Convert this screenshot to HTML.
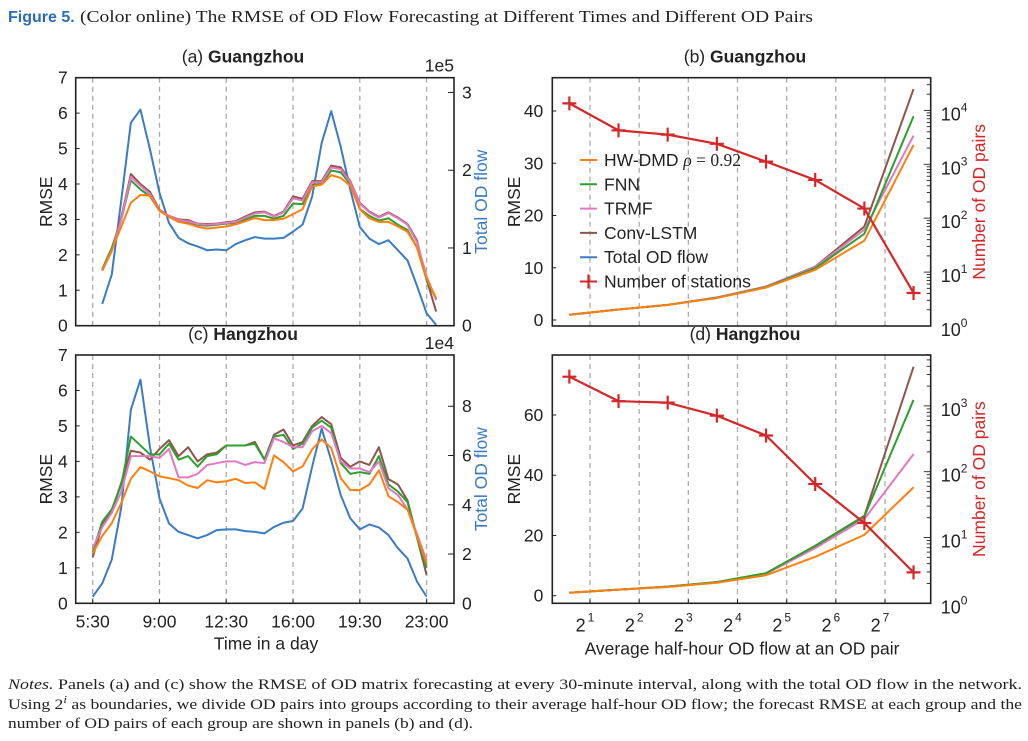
<!DOCTYPE html>
<html><head><meta charset="utf-8"><style>
body{margin:0;background:#fff;}
svg{font-family:"Liberation Sans",sans-serif;}
</style></head><body>
<svg id="fig" width="1028" height="736" viewBox="0 0 1028 736" xmlns="http://www.w3.org/2000/svg">
<text x="8" y="22" font-size="16" fill="#2a6db5" font-weight="bold">Figure 5.</text>
<text x="80" y="22" font-size="17" fill="#222" style="font-family:'Liberation Serif',serif" textLength="733" lengthAdjust="spacingAndGlyphs">(Color online) The RMSE of OD Flow Forecasting at Different Times and Different OD Pairs</text>
<g id="plots"></g>
<g style="font-family:'Liberation Serif',serif" font-size="15" fill="#222">
<text x="8" y="689" textLength="1014" lengthAdjust="spacingAndGlyphs"><tspan font-style="italic">Notes.</tspan> Panels (a) and (c) show the RMSE of OD matrix forecasting at every 30-minute interval, along with the total OD flow in the network.</text>
<text x="8" y="709" textLength="1014" lengthAdjust="spacingAndGlyphs">Using 2<tspan font-style="italic" font-size="11" dy="-6">i</tspan><tspan dy="6"> as boundaries, we divide OD pairs into groups according to their average half-hour OD flow; the forecast RMSE at each group and the</tspan></text>
<text x="8" y="728" textLength="465" lengthAdjust="spacingAndGlyphs">number of OD pairs of each group are shown in panels (b) and (d).</text>
</g>
</svg>
<script>
// ---- Panel (a) Guangzhou, slots 1..36 (6:00..23:30)
const aSlots = [1,2,3,4,5,6,7,8,9,10,11,12,13,14,15,16,17,18,19,20,21,22,23,24,25,26,27,28,29,30,31,32,33,34,35,36];
const aHW = [1.57,2.13,2.8,3.47,3.69,3.67,3.24,3.07,2.93,2.88,2.79,2.74,2.77,2.8,2.86,2.95,3.04,2.98,2.98,3.02,3.15,3.29,3.93,3.98,4.25,4.17,3.95,3.29,3.03,2.93,2.93,2.8,2.65,2.2,1.34,0.78];
const aFNN = [1.6,2.2,3.0,4.1,3.85,3.65,3.25,3.08,2.97,2.93,2.85,2.82,2.85,2.88,2.9,3.0,3.1,3.1,3.02,3.1,3.45,3.43,3.98,4.0,4.38,4.33,4.0,3.3,3.1,2.97,3.03,2.85,2.7,2.2,1.3,0.75];
const aTRMF = [1.55,2.1,3.0,4.2,3.95,3.72,3.25,3.1,2.98,2.95,2.87,2.85,2.87,2.9,2.93,3.05,3.17,3.2,3.08,3.2,3.6,3.53,4.05,4.05,4.47,4.42,4.05,3.45,3.2,3.05,3.18,3.03,2.85,2.35,1.4,0.72];
const aLSTM = [1.55,2.15,3.05,4.28,4.0,3.78,3.27,3.1,3.0,2.98,2.88,2.87,2.88,2.92,2.95,3.08,3.2,3.22,3.1,3.22,3.65,3.58,4.08,4.08,4.52,4.47,4.08,3.47,3.22,3.07,3.2,3.05,2.87,2.4,1.3,0.4];
const aFlow = [0.28,0.66,1.62,2.61,2.78,2.27,1.71,1.32,1.13,1.06,1.02,0.97,0.98,0.97,1.05,1.10,1.14,1.12,1.12,1.13,1.21,1.30,1.66,2.35,2.76,2.30,1.75,1.27,1.12,1.05,1.10,0.97,0.84,0.51,0.16,0.01];
// ---- Panel (c) Hangzhou, slots 0..35 (5:30..23:00)
const cSlots = [0,1,2,3,4,5,6,7,8,9,10,11,12,13,14,15,16,17,18,19,20,21,22,23,24,25,26,27,28,29,30,31,32,33,34,35];
const cHW = [1.41,1.9,2.26,2.83,3.51,3.84,3.72,3.58,3.53,3.47,3.32,3.25,3.47,3.41,3.44,3.51,3.39,3.41,3.22,4.17,3.98,3.72,3.86,4.34,4.62,4.38,3.53,3.19,3.19,3.35,3.75,3.02,2.85,2.64,1.89,1.13];
const cFNN = [1.45,2.3,2.65,3.35,4.7,4.45,4.2,4.2,4.5,4.05,4.15,3.85,4.15,4.2,4.45,4.45,4.45,4.5,4.05,4.7,4.75,4.35,4.5,4.95,5.15,4.95,3.95,3.65,3.7,3.65,4.15,3.35,3.15,2.85,1.85,1.0];
const cTRMF = [1.55,2.15,2.55,3.15,4.15,4.15,4.15,4.1,4.35,3.55,3.55,3.65,3.9,3.95,4.0,4.0,3.9,3.98,3.95,4.65,4.55,4.4,4.4,4.85,5.0,4.8,4.0,3.8,3.8,3.7,4.0,3.25,3.05,2.65,1.95,1.2];
const cLSTM = [1.3,2.2,2.6,3.4,4.3,4.25,4.05,4.35,4.6,4.15,4.4,4.0,4.2,4.25,4.45,4.45,4.45,4.55,4.05,4.75,4.9,4.45,4.55,5.0,5.25,5.05,4.1,3.85,4.0,3.9,4.4,3.5,3.35,2.9,1.85,0.8];
const cFlow = [0.27,0.81,1.78,3.9,7.86,9.08,6.35,4.26,3.24,2.9,2.77,2.64,2.77,2.97,3.0,3.0,2.93,2.9,2.84,3.1,3.27,3.34,3.85,5.54,7.09,5.81,4.39,3.45,3.0,3.2,3.08,2.77,2.23,1.82,0.88,0.27];
const timeTicks = ["5:30","9:00","12:30","16:00","19:30","23:00"];
// ---- Panels (b),(d): log2 of average flow per group
const grpX = [0.58,1.58,2.58,3.58,4.58,5.58,6.58,7.58];
const bHW = [1.0,2.0,2.9,4.2,6.2,9.6,15.2,33.5];
const bFNN = [1.0,2.0,2.9,4.25,6.3,9.9,16.5,39];
const bTRMF = [1.0,2.0,2.9,4.3,6.4,10.1,17.3,35.3];
const bLSTM = [1.0,2.0,2.9,4.3,6.4,10.2,17.9,44.2];
const bPairs = [13500,4260,3550,2400,1120,513,151,4.1];
const dHW = [1.0,2.0,2.9,4.3,6.8,12.9,20.2,36];
const dFNN = [1.0,2.0,3.0,4.5,7.5,16.5,26.3,65];
const dTRMF = [1.0,2.0,3.0,4.5,7.3,15.8,25.5,47];
const dLSTM = [1.0,2.0,3.0,4.5,7.4,16.6,26.5,76];
const dPairs = [2780,1180,1120,710,355,65,16.6,2.95];
const powTicks = [1,2,3,4,5,6,7];

const FS = 17.5;
const C = {hw:"#ff7f0e",fnn:"#2ca02c",trmf:"#e377c2",lstm:"#8c564b",flow:"#3a7cc4",red:"#d62728"};
const NS="http://www.w3.org/2000/svg";
const root=document.getElementById('plots');
function mk(tag,attrs,parent){const e=document.createElementNS(NS,tag);for(const k in attrs)e.setAttribute(k,attrs[k]);(parent||root).appendChild(e);return e;}
function txt(s,attrs,parent){const e=mk('text',attrs,parent);e.textContent=s;return e;}
function lin(d0,d1,r0,r1){return v=>r0+(v-d0)/(d1-d0)*(r1-r0);}
function poly(xs,ys,fx,fy,color,g,w){const p=xs.map((x,i)=>fx(x).toFixed(2)+','+fy(ys[i]).toFixed(2)).join(' ');return mk('polyline',{points:p,fill:'none',stroke:color,'stroke-width':w||2,'stroke-linejoin':'round'},g);}

function timePanel(id,top,bot,slots,series,flow,flowMax,flowTicks,expo,title,showX){
  const L=75.7,R=454;
  const g=mk('g',{});
  
  
  const fx=lin(0,1,92.7,92.7+9.54);
  const fy=lin(0,7,bot,top);
  const fr=lin(0,flowMax,bot,top);
  for(let i=0;i<6;i++){const x=fx(i*7);const l=mk('line',{x1:x,x2:x,y1:top,y2:bot,stroke:'#aaa','stroke-width':1.3,'stroke-dasharray':'5,4'},g);}
  for(let v=0;v<=7;v++){const y=fy(v);mk('line',{x1:L,x2:L+4,y1:y,y2:y,stroke:'#222'},g);const t=txt(String(v),{x:L-8,y:y+6,'font-size':FS,'text-anchor':'end',fill:'#222'},g);}
  flowTicks.forEach(v=>{const y=fr(v);mk('line',{x1:R-6,x2:R,y1:y,y2:y,stroke:'#222'},g);const t=txt(String(v),{x:R+8,y:y+6,'font-size':FS,fill:'#222'},g);});
  const e=txt(expo,{x:R,y:top-6,'font-size':FS,'text-anchor':'end',fill:'#222'},g);
  const yl=txt('RMSE',{transform:`translate(52,${(top+bot)/2}) rotate(-90)`,'font-size':FS,'text-anchor':'middle',fill:'#222'},g);
  const rl=txt('Total OD flow',{transform:`translate(487,${(top+bot)/2}) rotate(-90)`,'font-size':FS,'text-anchor':'middle',fill:C.flow},g);
  const tt=mk('text',{x:243,y:top-15,'font-size':FS,'text-anchor':'middle',fill:'#222'},g);tt.innerHTML=title;
  if(showX){timeTicks.forEach((s,i)=>{const x=fx(i*7);mk('line',{x1:x,x2:x,y1:bot,y2:bot-4,stroke:'#222'},g);const t=txt(s,{x:x,y:bot+24,'font-size':FS,'text-anchor':'middle',fill:'#222'},g);});
    const xt=txt('Time in a day',{x:266,y:bot+46,'font-size':FS,'text-anchor':'middle',fill:'#222'},g);}
  const lf=poly(slots,flow,fx,fr,C.flow,g);
  const names=['hw-dmd-line','fnn-line','trmf-line','conv-lstm-line'];const cols=[C.hw,C.fnn,C.trmf,C.lstm];
  [3,1,2,0].forEach(k=>{const p=poly(slots,series[k],fx,fy,cols[k],g);});
  mk('rect',{x:L,y:top,width:R-L,height:bot-top,fill:'none',stroke:'#222','stroke-width':1.6},g);
}
timePanel('a',77.7,325.7,aSlots,[aHW,aFNN,aTRMF,aLSTM],aFlow,3.19,[0,1,2,3],'1e5','(a) <tspan font-weight="bold">Guangzhou</tspan>',false);
timePanel('c',355,603.3,cSlots,[cHW,cFNN,cTRMF,cLSTM],cFlow,10.08,[0,2,4,6,8],'1e4','(c) <tspan font-weight="bold">Hangzhou</tspan>',true);

function groupPanel(id,top,bot,zeroY,refV,refY,rmseTicks,series,pairs,decPx,decTicks,title,legend,showX){
  const L=552.3,R=930.7;
  const g=mk('g',{});
  
  
  const fx=lin(1,2,590,639.17);
  const fy=lin(0,refV,zeroY,refY);
  const fr=v=>bot-Math.log10(v)*decPx;
  for(let k=1;k<=7;k++){const x=fx(k);const l=mk('line',{x1:x,x2:x,y1:top,y2:bot,stroke:'#aaa','stroke-width':1.3,'stroke-dasharray':'5,4'},g);}
  rmseTicks.forEach(v=>{const y=fy(v);mk('line',{x1:L,x2:L+4,y1:y,y2:y,stroke:'#222'},g);const t=txt(String(v),{x:L-9,y:y+6,'font-size':FS,'text-anchor':'end',fill:'#222'},g);});
  const maxDec=(bot-top)/decPx;
  for(let d=0;d<=Math.ceil(maxDec);d++){for(let m=1;m<10;m++){const v=m*Math.pow(10,d);const y=fr(v);if(y<top-0.5)continue;mk('line',{x1:R-(m==1?7:4),x2:R,y1:y,y2:y,stroke:'#222','stroke-width':0.9},g);}}
  decTicks.forEach(d=>{const y=fr(Math.pow(10,d));const t=mk('text',{x:R+10,y:y+10,'font-size':18,fill:'#222'},g);t.innerHTML='10<tspan font-size="12" dy="-9">'+d+'</tspan>';});
  const yl=txt('RMSE',{transform:`translate(520,${(top+bot)/2}) rotate(-90)`,'font-size':FS,'text-anchor':'middle',fill:'#222'},g);
  const rl=txt('Number of OD pairs',{transform:`translate(985,${(top+bot)/2}) rotate(-90)`,'font-size':FS,'text-anchor':'middle',fill:C.red},g);
  const tt=mk('text',{x:745,y:top-15,'font-size':FS,'text-anchor':'middle',fill:'#222'},g);tt.innerHTML=title;
  if(showX){powTicks.forEach(k=>{const x=fx(k);mk('line',{x1:x,x2:x,y1:bot,y2:bot-4,stroke:'#222'},g);const t=mk('text',{x:x-5,y:bot+28,'font-size':18,'text-anchor':'middle',fill:'#222'},g);t.innerHTML='2<tspan font-size="12" dy="-10" dx="2">'+k+'</tspan>';});
    const xt=txt('Average half-hour OD flow at an OD pair',{x:742,y:bot+51,'font-size':FS,'text-anchor':'middle',fill:'#222'},g);}
  const names=['hw-dmd-line','fnn-line','trmf-line','conv-lstm-line'];const cols=[C.hw,C.fnn,C.trmf,C.lstm];
  [3,2,1,0].forEach(k=>{const p=poly(grpX,series[k],fx,fy,cols[k],g);});
  const rp=poly(grpX,pairs,fx,fr,C.red,g,2.2);
  grpX.forEach((x,i)=>{const cx=fx(x),cy=fr(pairs[i]);const m=mk('path',{d:`M${cx-7},${cy}H${cx+7}M${cx},${cy-7}V${cy+7}`,stroke:C.red,'stroke-width':2.2},g);});
  if(legend){const lg=mk('g',{},g);
    const items=[['HW-DMD ',C.hw],['FNN',C.fnn],['TRMF',C.trmf],['Conv-LSTM',C.lstm],['Total OD flow',C.flow],['Number of stations',C.red]];
    items.forEach((it,i)=>{const y=160+i*24.3;mk('line',{x1:580,x2:597,y1:y,y2:y,stroke:it[1],'stroke-width':2},lg);if(i==5)mk('path',{d:`M588.5,${y-7}V${y+7}`,stroke:C.red,'stroke-width':2.2},lg);
      const t=mk('text',{x:604,y:y+6,'font-size':FS,fill:'#222'},lg);
      if(i==0)t.innerHTML='HW-DMD <tspan style="font-family:\'Liberation Serif\',serif" font-style="italic">ρ</tspan><tspan style="font-family:\'Liberation Serif\',serif"> = 0.92</tspan>';else t.textContent=it[0];
      });}
  mk('rect',{x:L,y:top,width:R-L,height:bot-top,fill:'none',stroke:'#222','stroke-width':1.6},g);
}
groupPanel('b',77.7,326,320,40,111,[0,10,20,30,40],[bHW,bFNN,bTRMF,bLSTM],bPairs,53.9,[0,1,2,3,4],'(b) <tspan font-weight="bold">Guangzhou</tspan>',true,false);
groupPanel('d',355,603.3,595.7,60,415,[0,20,40,60],[dHW,dFNN,dTRMF,dLSTM],dPairs,65.8,[0,1,2,3],'(d) <tspan font-weight="bold">Hangzhou</tspan>',false,true);
</script>
</body></html>
